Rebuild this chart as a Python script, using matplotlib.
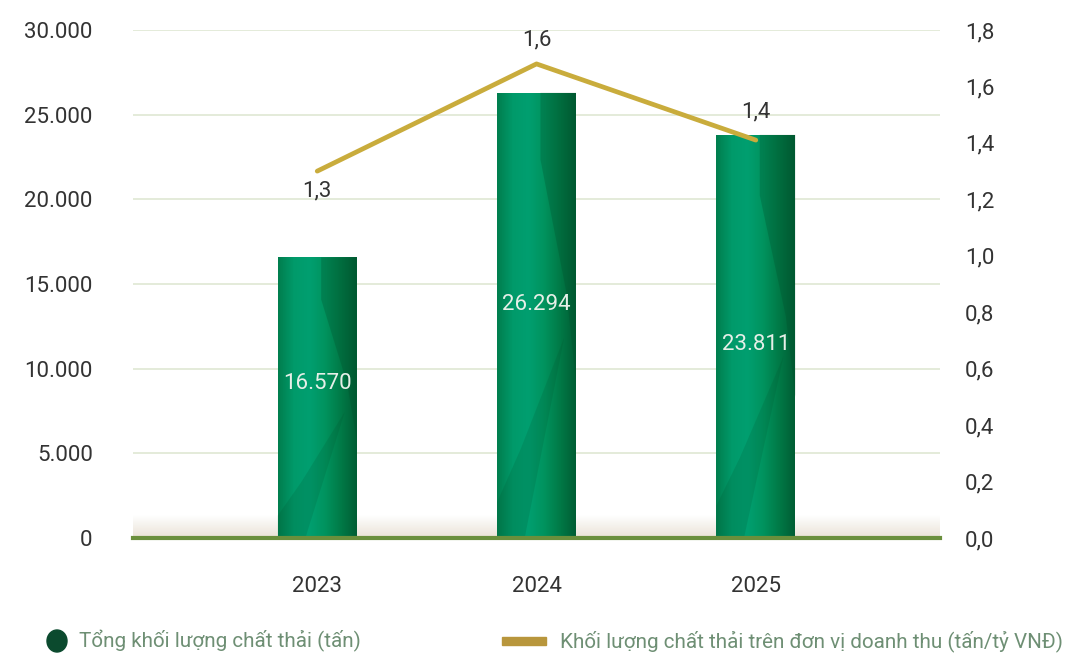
import matplotlib
matplotlib.use('agg')
import matplotlib.pyplot as plt
import numpy as np
from matplotlib.patches import Ellipse, Rectangle, Polygon
from matplotlib.colors import LinearSegmentedColormap

plt.rcParams['font.family'] = ['Roboto', 'DejaVu Sans']

# data
years = ["2023", "2024", "2025"]
waste_total = [16570, 26294, 23811]
waste_labels = ["16.570", "26.294", "23.811"]
waste_per_rev = [1.30, 1.68, 1.41]
rev_labels = ["1,3", "1,6", "1,4"]
left_ticks = [0, 5000, 10000, 15000, 20000, 25000, 30000]
left_ticklabels = ["0", "5.000", "10.000", "15.000", "20.000", "25.000", "30.000"]
right_ticks = [0.0, 0.2, 0.4, 0.6, 0.8, 1.0, 1.2, 1.4, 1.6, 1.8]
right_ticklabels = ["0,0", "0,2", "0,4", "0,6", "0,8", "1,0", "1,2", "1,4", "1,6", "1,8"]
legend_labels = ["Tổng khối lượng chất thải (tấn)",
                 "Khối lượng chất thải trên đơn vị doanh thu (tấn/tỷ VNĐ)"]

TXT = "#333333"
GOLD = "#c9ac3c"
FS = 16

fig = plt.figure(figsize=(10.71, 6.53), dpi=100)
ax1 = fig.add_axes([0.1242, 0.1761, 0.7535, 0.7779])
x = np.arange(len(years))

ax1.set_xlim(-0.84, 2.84)
ax1.set_ylim(0, 30000)

# grid
for t in left_ticks[1:]:
    ax1.axhline(t, color="#dfe8d3", lw=1.2, zorder=0)

# soft shadow above baseline
shade = LinearSegmentedColormap.from_list("sh", ["#ffffff", "#e9e2d6"])
ax1.imshow(np.linspace(0, 1, 50).reshape(-1, 1), cmap=shade, aspect="auto",
           extent=(-0.84, 2.84, 0, 1300), origin="upper", zorder=0.5)

# bars with gradient + facets
grad = LinearSegmentedColormap.from_list(
    "g", ["#007e4e", "#009a6a", "#009f70", "#00935e", "#007a47", "#005e34"])
bars = ax1.bar(x, waste_total, width=0.36, color="#00874f", zorder=2)
for b, v in zip(bars, waste_total):
    x0 = b.get_x()
    w = b.get_width()
    im = ax1.imshow(np.linspace(0, 1, 100).reshape(1, -1), cmap=grad, aspect="auto",
                    extent=(x0, x0 + w, 0, v), zorder=3)
    im.set_clip_path(b)
    # dark facet at the top right
    f1 = Polygon([(x0 + w * 0.55, v), (x0 + w, v), (x0 + w, v * 0.35),
                  (x0 + w * 0.88, v * 0.55), (x0 + w * 0.55, v * 0.85)],
                 closed=True, color="#004d2a", alpha=0.28, lw=0, zorder=4)
    # dark facet at the bottom left
    f2 = Polygon([(x0, 0), (x0 + w * 0.35, 0), (x0 + w * 0.85, v * 0.45),
                  (x0 + w * 0.3, v * 0.2), (x0, v * 0.08)],
                 closed=True, color="#004d2a", alpha=0.16, lw=0, zorder=4)
    ax1.add_patch(f1)
    ax1.add_patch(f2)

label_y = [9100, 13800, 11400]
for xi, ly, lab in zip(x, label_y, waste_labels):
    ax1.text(xi, ly, lab, ha="center", va="center", color="#e6efe8",
             fontsize=FS, zorder=6)

ax1.axhline(0, color="#6a8f3c", lw=3, zorder=5, clip_on=False)

for s in ax1.spines.values():
    s.set_visible(False)
ax1.set_yticks(left_ticks)
ax1.set_yticklabels(left_ticklabels, fontsize=FS, color=TXT)
ax1.set_xticks(x)
ax1.set_xticklabels(years, fontsize=FS, color=TXT)
ax1.tick_params(axis="y", length=0, pad=29)
ax1.tick_params(axis="x", length=0, pad=27)

ax2 = ax1.twinx()
ax2.set_ylim(0, 1.8)
ax2.plot(x, waste_per_rev, color=GOLD, lw=3.4, zorder=7, solid_capstyle="round")
offsets = [-20, 24, 28]
for xi, v, lab, off in zip(x, waste_per_rev, rev_labels, offsets):
    ax2.annotate(lab, (xi, v), xytext=(0, off), textcoords="offset pixels",
                 ha="center", va="center", fontsize=FS, color=TXT)
for s in ax2.spines.values():
    s.set_visible(False)
ax2.set_yticks(right_ticks)
ax2.set_yticklabels(right_ticklabels, fontsize=FS, color=TXT)
ax2.tick_params(axis="y", length=0, pad=18)

# legend
LEG = "#6e8f74"
fig.patches.append(Ellipse((57 / 1071, 1 - 641 / 653), 20 / 1071, 22 / 653,
                           transform=fig.transFigure, color="#0b4a2e"))
fig.text(79 / 1071, 1 - 641 / 653, legend_labels[0], fontsize=14.9, color=LEG,
         va="center", ha="left")
fig.patches.append(Rectangle((502 / 1071, 1 - 645 / 653), 44 / 1071, 8 / 653,
                             transform=fig.transFigure, color="#b8963c"))
fig.text(560 / 1071, 1 - 641 / 653, legend_labels[1], fontsize=14.9, color=LEG,
         va="center", ha="left")

fig.savefig("out.png", dpi=100)
